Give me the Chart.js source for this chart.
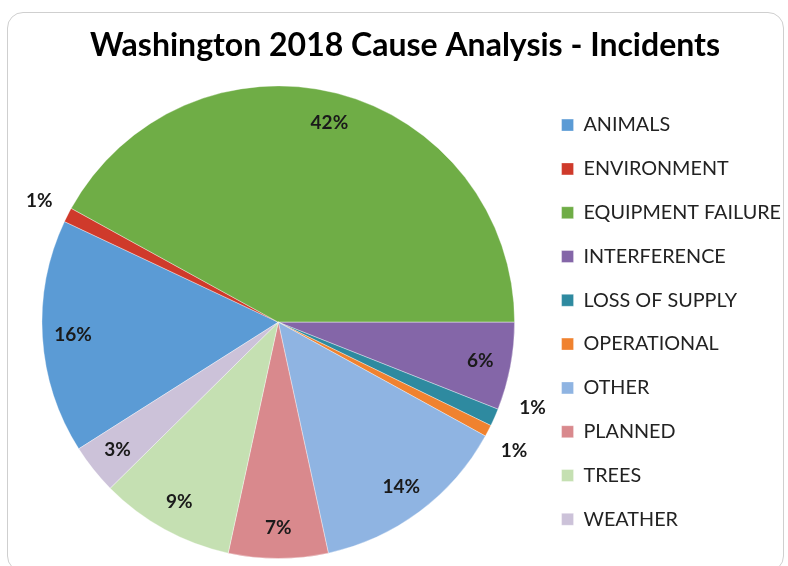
<!DOCTYPE html>
<html>
<head>
<meta charset="utf-8">
<script src="https://cdn.jsdelivr.net/npm/chart.js@4.4.1/dist/chart.umd.min.js"></script>
<style>
  html, body { margin: 0; padding: 0; background: #fff; }
  #wrap { position: relative; width: 788px; height: 566px; overflow: hidden; }
  #card {
    position: absolute; left: 7px; top: 12px; width: 777px; height: 560px;
    border: 1.5px solid #cfcfcf; border-radius: 16px; box-sizing: border-box;
  }
  #chart { position: absolute; left: 0; top: 0; }
</style>
</head>
<body>
<div id="wrap">
  <div id="card"></div>
  <canvas id="chart" width="788" height="566"></canvas>
</div>
<script>
// Washington 2018 cause analysis — incident share by cause

// ── Data ──────────────────────────────────────────────────────────────────────

const CAUSES = [
  'ANIMALS', 'ENVIRONMENT', 'EQUIPMENT FAILURE', 'INTERFERENCE', 'LOSS OF SUPPLY',
  'OPERATIONAL', 'OTHER', 'PLANNED', 'TREES', 'WEATHER',
];
// shares in % (labels show them rounded)
const SHARES = [16, 1, 42, 6, 1.2, 0.8, 13.6, 6.8, 9.2, 3.4];
const COLORS = [
  '#5b9bd5', '#cf3a2b', '#6fad46', '#8466a8', '#2e8aa0',
  '#f0822f', '#8fb4e2', '#d9898d', '#c5e0b2', '#ccc2d9',
];

// ── Percent labels (inside, or outside for tiny slices) ──────────────────────

const pctLabels = {
  id: 'pctLabels',
  afterDatasetsDraw(chart) {
    const { ctx } = chart;
    const meta = chart.getDatasetMeta(0);
    const total = SHARES.reduce((s, v) => s + v, 0);

    const items = meta.data.map((arc, i) => {
      const { x, y, startAngle, endAngle, outerRadius } = arc.getProps(
        ['x', 'y', 'startAngle', 'endAngle', 'outerRadius'], true);
      const pct = SHARES[i] / total;
      return { i, x, y, r: outerRadius, mid: (startAngle + endAngle) / 2, outside: pct < 0.02 };
    });

    // push neighbouring outside labels apart so they don't collide
    const outs = items.filter((d) => d.outside);
    const minSep = 10 * Math.PI / 180;
    for (let k = 1; k < outs.length; k++) {
      const a = outs[k - 1], b = outs[k];
      const gap = b.mid - a.mid;
      if (gap < minSep && gap > 0 && b.i - a.i === 1) {
        const c = (a.mid + b.mid) / 2 - 2 * Math.PI / 180;
        a.mid = c - minSep / 2;
        b.mid = c + minSep / 2;
      }
    }

    ctx.save();
    ctx.font = 'bold 19px Lato, sans-serif';
    ctx.fillStyle = '#1a1a1a';
    ctx.textAlign = 'center';
    ctx.textBaseline = 'middle';
    items.forEach((d) => {
      const rad = d.outside ? d.r + 32 : d.r * 0.87;
      const lx = d.x + Math.cos(d.mid) * rad;
      const ly = d.y + Math.sin(d.mid) * rad;
      ctx.fillText(Math.round(SHARES[d.i] / total * 100) + '%', lx, ly);
    });
    ctx.restore();
  },
};

// ── Chart ─────────────────────────────────────────────────────────────────────

// equipment failure ends exactly at 3 o'clock
const startDeg = -SHARES.slice(0, 3).reduce((s, v) => s + v, 0) / 100 * 360 + 90;

new Chart(document.getElementById('chart'), {
  type: 'pie',
  data: {
    labels: CAUSES,
    datasets: [{
      data: SHARES,
      backgroundColor: COLORS,
      borderColor: 'rgba(255,255,255,0.35)',
      borderWidth: 1,
    }],
  },
  options: {
    responsive: false,
    animation: false,
    rotation: startDeg,
    layout: { padding: { left: 19, right: -3, top: 0, bottom: 7 } },
    plugins: {
      title: {
        display: true,
        text: 'Washington 2018 Cause Analysis - Incidents',
        color: '#000',
        font: { family: 'Lato, sans-serif', size: 32, weight: 'bold', lineHeight: 1.2 },
        padding: { top: 26, bottom: 21 },
      },
      legend: {
        position: 'right',
        fullSize: false,
        labels: {
          boxWidth: 12,
          boxHeight: 12,
          padding: 24,
          color: '#222',
          font: { family: 'Lato, sans-serif', size: 19.8 },
        },
      },
      tooltip: { enabled: false },
    },
  },
  plugins: [pctLabels],
});
</script>
</body>
</html>
